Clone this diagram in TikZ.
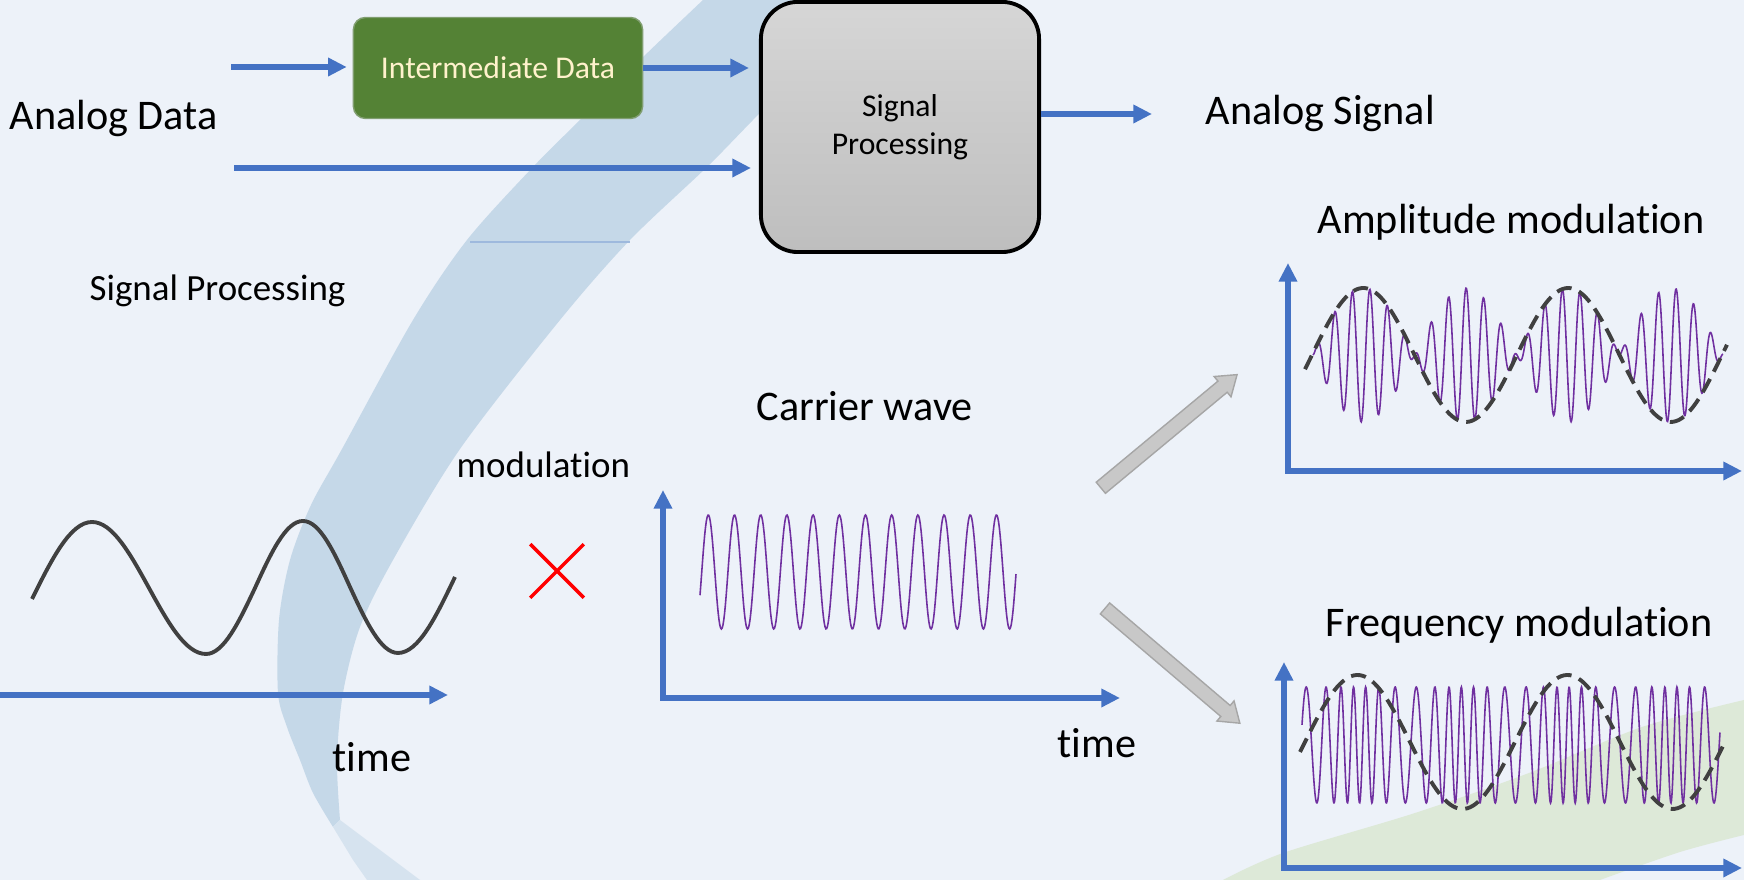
\documentclass[tikz,border=0pt]{standalone}
\usepackage{fontspec}
\setmainfont{Carlito}[Ligatures={NoCommon}]
\usepackage{tikz}
\usetikzlibrary{arrows.meta, shapes.misc, shapes.arrows, positioning}
\definecolor{bgcol}{RGB}{237,242,249}
\definecolor{swoosh}{RGB}{197,216,232}
\definecolor{swooshtail}{RGB}{214,227,239}
\definecolor{greenswoosh}{RGB}{221,233,216}
\definecolor{flowblue}{RGB}{68,114,196}
\definecolor{boxgreen}{RGB}{84,130,53}
\definecolor{boxedge}{RGB}{128,158,112}
\definecolor{boxtext}{RGB}{255,242,204}
\definecolor{wavepurple}{RGB}{112,48,160}
\definecolor{curvegrey}{RGB}{64,64,64}
\definecolor{arrowfill}{RGB}{200,200,200}
\definecolor{arrowedge}{RGB}{166,166,166}
\tikzset{
  tip/.style = {-{Triangle[length=5.3pt,width=5pt]}},
  flow/.style = {draw = flowblue, line width = 1.6pt, tip},
  axes/.style = {draw = flowblue, line width = 1.6pt, {Triangle[length=5.3pt,width=5pt]}-{Triangle[length=5.3pt,width=5pt]}},
  lbl/.style = {inner sep = 0pt, anchor = base west, font = \fontsize{12}{14}\selectfont},
  smalllbl/.style = {lbl, font = \fontsize{10.5}{12.6}\selectfont},
  carrier/.style = {draw = wavepurple, line width = 0.45pt},
  envelope/.style = {draw = curvegrey, line width = 1.1pt, dash pattern = on 4.3pt off 2.3pt},
  bigarrow/.style = {single arrow, draw = arrowedge, fill = arrowfill, inner sep = 0.65mm,
    single arrow head extend = 0.6mm, single arrow tip angle = 70, minimum height = 1.77cm}
}

\begin{document}
\begin{tikzpicture}[x=0.01cm, y=-0.01cm]
\useasboundingbox (0,0) rectangle (1744,880);
\fill[bgcol] (0,0) rectangle (1744,880);
% background swooshes
\fill[swoosh] plot[smooth] coordinates {(703,0) (640,60) (580,120) (533,167) (467,240) (413,320) (342,449) (311,505) (290,560) (279,620) (278,693) (287,727) (300,760) (313,793) (333,827)}
  -- plot[smooth] coordinates {(340,820) (337,760) (343,693) (360,627) (393,560) (460,449) (560,320) (630,240) (707,167) (753,120) (870,0)} -- cycle;
\fill[swooshtail] (333,827) -- (353,860) -- (367,880) -- (420,880) -- (340,820) -- cycle;
\draw[swoosh!70!flowblue, line width = 0.3pt] (470,242) -- (630,242);
\fill[greenswoosh] plot[smooth] coordinates {(1223,880) (1283,853) (1415,813) (1529,773) (1642,727) (1744,700)}
  -- (1744,835) -- plot[smooth] coordinates {(1744,835) (1680,852) (1600,880)} -- cycle;

% top chain
\node[fill = boxgreen, draw = boxedge, rounded corners = 0.12cm, minimum width = 2.89cm, minimum height = 1.01cm,
  text = boxtext, font = \fontsize{9}{10.8}\selectfont] (inter) at (498,68) {Intermediate Data};
\node[draw = black, line width = 1.1pt, rounded corners = 0.37cm, top color = {rgb,255:red,214;green,214;blue,214},
  bottom color = {rgb,255:red,190;green,190;blue,190}, minimum width = 2.78cm, minimum height = 2.5cm,
  align = center, font = \fontsize{9}{10.8}\selectfont] (sigproc) at (900,127) {Signal\\Processing};
\coordinate (in1) at (231,67);
\coordinate (in2) at (234,168);
\coordinate (out) at (1152,114);
\draw[flow, shorten > = 0.6mm] (in1) -- (inter.west |- in1);
\draw[flow, shorten > = 1mm] (inter.east) -- (inter.east -| sigproc.west);
\draw[flow, shorten > = 0.8mm] (in2) -- (in2 -| sigproc.west);
\draw[flow] (sigproc.east |- out) -- (out);
\node[lbl] (adata) at (9,130) {Analog Data};
\node[lbl] (asig) at (1205,125) {Analog Signal};
\node[smalllbl] (sptitle) at (89,301) {Signal Processing};

% message signal
\draw[curvegrey, line width = 1.1pt] (32,599) sin (92,522) cos (149,588) sin (206,654) cos (255,588)
  sin (303,521) cos (350,587) sin (398,653) cos (455,577);
\coordinate (t0) at (0,695);
\coordinate (t1) at (448,695);
\draw[flow] (t0) -- (t1);
\node[lbl] (time1) at (332,772) {time};
\node[cross out, draw = red, line width = 1pt, minimum size = 0.5cm, inner sep = 0pt] (times) at (557,571) {};
\node[smalllbl] (modlbl) at (456,478) {modulation};

% carrier
\coordinate (cO) at (663,698);
\draw[axes] (663,490) -- (cO) -- (1120,698);
\draw[carrier] plot[domain = 700:1016, samples = 400] (\x, {572 - 57*sin((\x-708.3)/26.2*360 + 90)});
\node[lbl] (cwtitle) at (756,421) {Carrier wave};
\node[lbl] (time2) at (1057,758) {time};

% amplitude modulation
\coordinate (amO) at (1288,471);
\draw[axes] (1288,263) -- (amO) -- (1742,471);
\draw[carrier] plot[domain = 1313:1723, samples = 800] (\x, {355 - 67*sin((\x-1312)/205*360)*sin((\x-1313)/17.5*360)});
\draw[envelope] plot[domain = 1305:1727, samples = 150] (\x, {355 - 67*sin((\x-1312)/205*360)});
\node[lbl] (amtitle) at (1317,234) {Amplitude modulation};

% frequency modulation
\coordinate (fmO) at (1284,868);
\draw[axes] (1284,662) -- (fmO) -- (1742,868);
\draw[carrier] plot[domain = 1302:1720, samples = 1000]
  (\x, {745 - 58*sin(360*(0.0455*(\x-1302) + 0.0379*((\x-1302)/2 - 8.36*sin((\x-1305)/210*720))))});
\draw[envelope] plot[domain = 1300:1723, samples = 150] (\x, {742 - 67*sin((\x-1305)/210*360)});
\node[lbl] (fmtitle) at (1325,637) {Frequency modulation};

% block arrows
\node[bigarrow, rotate = 39.7] (toam) at (1165,434.5) {};
\node[bigarrow, rotate = -40.4] (tofm) at (1168.5,662.5) {};
\end{tikzpicture}
\end{document}
